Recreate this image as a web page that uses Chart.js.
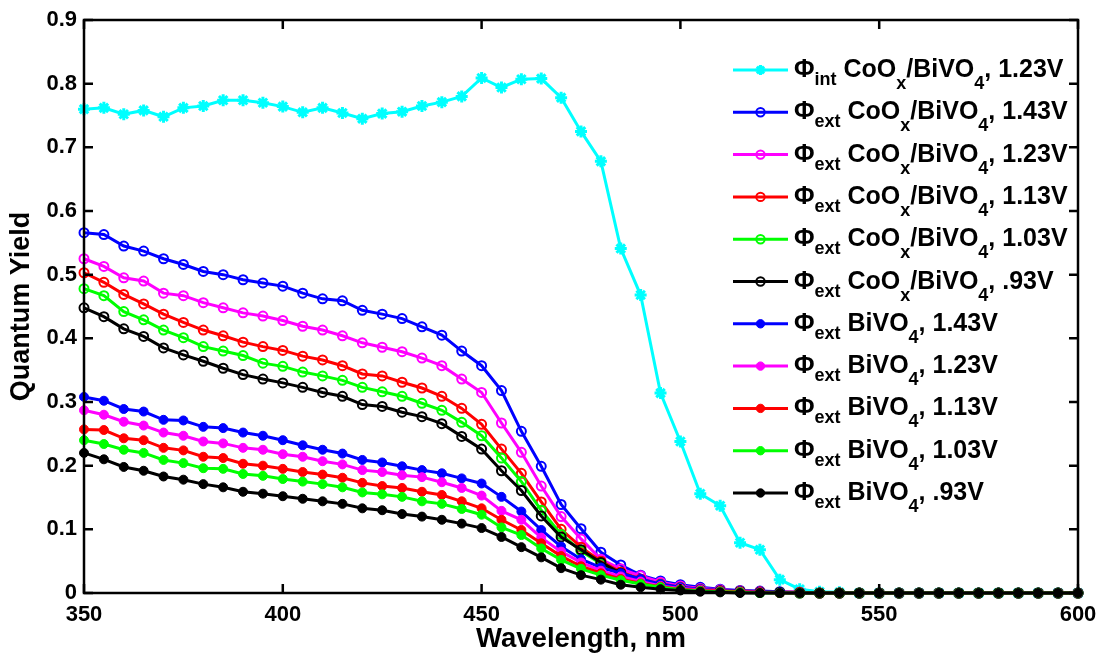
<!DOCTYPE html>
<html><head><meta charset="utf-8">
<script src="https://cdn.jsdelivr.net/npm/chart.js@4.4.0/dist/chart.umd.min.js"></script>
<style>html,body{margin:0;padding:0;background:#fff;}#wrap{width:1099px;height:656px;}</style>
</head><body><div id="wrap"><canvas id="c" width="1099" height="656"></canvas></div>
<script>
const wavelengths = [350,355,360,365,370,375,380,385,390,395,400,405,410,415,420,425,430,435,440,445,450,455,460,465,470,475,480,485,490,495,500,505,510,515,520,525,530,535,540,545,550,555,560,565,570,575,580,585,590,595,600];

const intCoOx123 = [0.760,0.762,0.752,0.758,0.748,0.762,0.765,0.774,0.774,0.770,0.764,0.755,0.762,0.754,0.745,0.753,0.756,0.765,0.771,0.780,0.809,0.794,0.807,0.808,0.778,0.725,0.678,0.541,0.468,0.314,0.238,0.156,0.137,0.079,0.068,0.021,0.006,0.002,0.001,0,0,0,0,0,0,0,0,0,0,0,0];
const extCoOx143 = [0.566,0.563,0.545,0.537,0.525,0.516,0.505,0.500,0.492,0.487,0.482,0.471,0.462,0.459,0.444,0.438,0.431,0.418,0.405,0.380,0.357,0.318,0.254,0.199,0.139,0.101,0.064,0.044,0.028,0.019,0.013,0.009,0.006,0.004,0.003,0.002,0.001,0,0,0,0,0,0,0,0,0,0,0,0,0,0];
const extCoOx123 = [0.525,0.513,0.495,0.490,0.471,0.467,0.456,0.448,0.440,0.435,0.428,0.419,0.413,0.404,0.393,0.386,0.379,0.369,0.357,0.336,0.315,0.267,0.221,0.168,0.120,0.085,0.053,0.038,0.027,0.017,0.011,0.007,0.005,0.003,0.002,0.001,0.001,0,0,0,0,0,0,0,0,0,0,0,0,0,0];
const extCoOx113 = [0.503,0.488,0.469,0.454,0.438,0.425,0.413,0.404,0.394,0.387,0.381,0.372,0.366,0.357,0.344,0.341,0.331,0.322,0.309,0.290,0.265,0.226,0.188,0.143,0.100,0.072,0.050,0.033,0.022,0.014,0.009,0.006,0.004,0.003,0.002,0.001,0.001,0,0,0,0,0,0,0,0,0,0,0,0,0,0];
const extCoOx103 = [0.478,0.467,0.442,0.429,0.413,0.401,0.387,0.380,0.373,0.361,0.356,0.347,0.341,0.334,0.323,0.316,0.309,0.298,0.287,0.268,0.247,0.212,0.175,0.130,0.092,0.066,0.046,0.030,0.020,0.013,0.008,0.005,0.003,0.002,0.001,0.001,0,0,0,0,0,0,0,0,0,0,0,0,0,0,0];
const extCoOx093 = [0.448,0.434,0.415,0.403,0.385,0.374,0.364,0.353,0.343,0.336,0.330,0.323,0.315,0.309,0.296,0.293,0.284,0.277,0.266,0.246,0.226,0.192,0.161,0.121,0.088,0.068,0.048,0.031,0.020,0.012,0.007,0.004,0.003,0.002,0.001,0.001,0,0,0,0,0,0,0,0,0,0,0,0,0,0,0];
const extBiVO143 = [0.308,0.302,0.289,0.285,0.272,0.271,0.261,0.259,0.252,0.247,0.240,0.232,0.225,0.219,0.209,0.205,0.199,0.193,0.188,0.180,0.172,0.151,0.128,0.099,0.073,0.053,0.040,0.031,0.022,0.014,0.009,0.006,0.004,0.003,0.002,0.001,0,0,0,0,0,0,0,0,0,0,0,0,0,0,0];
const extBiVO123 = [0.287,0.280,0.269,0.263,0.252,0.247,0.238,0.235,0.228,0.225,0.218,0.214,0.207,0.202,0.193,0.190,0.185,0.182,0.174,0.165,0.153,0.129,0.115,0.087,0.065,0.048,0.035,0.026,0.018,0.011,0.007,0.005,0.003,0.002,0.001,0,0,0,0,0,0,0,0,0,0,0,0,0,0,0,0];
const extBiVO113 = [0.257,0.256,0.243,0.240,0.228,0.224,0.214,0.212,0.203,0.200,0.195,0.190,0.186,0.181,0.173,0.168,0.165,0.159,0.154,0.144,0.133,0.115,0.099,0.078,0.058,0.042,0.031,0.022,0.015,0.010,0.006,0.004,0.003,0.002,0.001,0,0,0,0,0,0,0,0,0,0,0,0,0,0,0,0];
const extBiVO103 = [0.240,0.234,0.225,0.220,0.209,0.204,0.196,0.195,0.187,0.184,0.179,0.175,0.171,0.166,0.158,0.155,0.151,0.144,0.140,0.132,0.123,0.103,0.091,0.070,0.052,0.038,0.028,0.020,0.014,0.009,0.005,0.003,0.002,0.001,0,0,0,0,0,0,0,0,0,0,0,0,0,0,0,0,0];
const extBiVO093 = [0.220,0.210,0.198,0.192,0.183,0.178,0.171,0.166,0.159,0.156,0.152,0.148,0.144,0.140,0.133,0.130,0.124,0.120,0.115,0.109,0.102,0.088,0.072,0.056,0.039,0.028,0.021,0.013,0.009,0.006,0.004,0.002,0.001,0,0,0,0,0,0,0,0,0,0,0,0,0,0,0,0,0,0];

const seriesValues = [intCoOx123, extCoOx143, extCoOx123, extCoOx113, extCoOx103, extCoOx093, extBiVO143, extBiVO123, extBiVO113, extBiVO103, extBiVO093];
const seriesLabels = [
  'Φ_{int} CoO_{x}/BiVO_{4}, 1.23V',
  'Φ_{ext} CoO_{x}/BiVO_{4}, 1.43V',
  'Φ_{ext} CoO_{x}/BiVO_{4}, 1.23V',
  'Φ_{ext} CoO_{x}/BiVO_{4}, 1.13V',
  'Φ_{ext} CoO_{x}/BiVO_{4}, 1.03V',
  'Φ_{ext} CoO_{x}/BiVO_{4}, .93V',
  'Φ_{ext} BiVO_{4}, 1.43V',
  'Φ_{ext} BiVO_{4}, 1.23V',
  'Φ_{ext} BiVO_{4}, 1.13V',
  'Φ_{ext} BiVO_{4}, 1.03V',
  'Φ_{ext} BiVO_{4}, .93V'
];
const seriesColors = ['#00ffff','#0000ff','#ff00ff','#ff0000','#00ff00','#000000','#0000ff','#ff00ff','#ff0000','#00ff00','#000000'];
const seriesMarkers = ['star','open','open','open','open','open','filled','filled','filled','filled','filled'];
const xTickLabels = ['350','400','450','500','550','600'];
const yTickLabels = ['0','0.1','0.2','0.3','0.4','0.5','0.6','0.7','0.8','0.9'];
const xAxisTitle = 'Wavelength, nm';
const yAxisTitle = 'Quantum Yield';

const FONT = '"Liberation Sans", Arial, Helvetica, sans-serif';

const datasets = seriesValues.map((vals, i) => {
  const m = seriesMarkers[i];
  return {
    label: seriesLabels[i],
    data: wavelengths.map((w, j) => ({x: w, y: vals[j]})),
    borderColor: seriesColors[i],
    backgroundColor: seriesColors[i],
    borderWidth: 3,
    tension: 0,
    pointStyle: m === 'star' ? 'star' : 'circle',
    pointRadius: m === 'star' ? 6 : 4.5,
    pointBorderWidth: m === 'open' ? 2 : (m === 'star' ? 3 : 1),
    pointBackgroundColor: m === 'open' ? 'rgba(0,0,0,0)' : seriesColors[i],
    pointBorderColor: seriesColors[i],
    clip: false,
    order: seriesValues.length - i
  };
});

function drawMarker(ctx, kind, color, x, y) {
  ctx.save();
  ctx.strokeStyle = color; ctx.fillStyle = color;
  if (kind === 'star') {
    ctx.lineWidth = 3;
    const r = 5;
    ctx.beginPath();
    for (let k = 0; k < 4; k++) {
      const a = k * Math.PI / 4;
      ctx.moveTo(x - r * Math.cos(a), y - r * Math.sin(a));
      ctx.lineTo(x + r * Math.cos(a), y + r * Math.sin(a));
    }
    ctx.stroke();
  } else {
    ctx.lineWidth = kind === 'open' ? 2 : 1;
    ctx.beginPath();
    ctx.arc(x, y, 4.2, 0, Math.PI * 2);
    if (kind === 'filled') ctx.fill();
    ctx.stroke();
  }
  ctx.restore();
}

function parseLabel(s) {
  const parts = [];
  const re = /_\{([^}]*)\}/g;
  let last = 0, mm;
  while ((mm = re.exec(s)) !== null) {
    if (mm.index > last) parts.push({t: s.slice(last, mm.index), sub: false});
    parts.push({t: mm[1], sub: true});
    last = re.lastIndex;
  }
  if (last < s.length) parts.push({t: s.slice(last), sub: false});
  return parts;
}

const frame = {
  id: 'frame',
  afterDatasetsDraw(chart) {
    const ctx = chart.ctx;
    const {left, right, top, bottom} = chart.chartArea;
    const xs = chart.scales.x, ys = chart.scales.y;
    ctx.save();
    ctx.strokeStyle = '#000';
    ctx.lineWidth = 2.5;
    ctx.lineCap = 'butt';
    ctx.strokeRect(left, top, right - left, bottom - top);
    const tl = 9;
    ctx.beginPath();
    xs.ticks.forEach(t => {
      const px = xs.getPixelForValue(t.value);
      ctx.moveTo(px, bottom); ctx.lineTo(px, bottom - tl);
      ctx.moveTo(px, top); ctx.lineTo(px, top + tl);
    });
    ys.ticks.forEach(t => {
      const py = ys.getPixelForValue(t.value);
      ctx.moveTo(left, py); ctx.lineTo(left + tl, py);
      ctx.moveTo(right, py); ctx.lineTo(right - tl, py);
    });
    ctx.stroke();
    ctx.restore();
  },
  afterDraw(chart) {
    const ctx = chart.ctx;
    const x0 = 733, x1 = 788, tx = 794, y0 = 70, dy = 42.3;
    ctx.save();
    seriesLabels.forEach((lab, i) => {
      const y = y0 + i * dy;
      ctx.strokeStyle = seriesColors[i];
      ctx.lineWidth = 3;
      ctx.beginPath(); ctx.moveTo(x0, y); ctx.lineTo(x1, y); ctx.stroke();
      drawMarker(ctx, seriesMarkers[i], seriesColors[i], (x0 + x1) / 2, y);
      let x = tx;
      const base = y + 7;
      ctx.fillStyle = '#000';
      ctx.textBaseline = 'alphabetic';
      ctx.textAlign = 'left';
      parseLabel(lab).forEach((p, k) => {
        if (p.sub) {
          ctx.font = 'bold 18px ' + FONT;
          const off = k === 1 ? 8 : 12;
          ctx.fillText(p.t, x, base + off);
          x += ctx.measureText(p.t).width;
        } else {
          ctx.font = 'bold 25px ' + FONT;
          ctx.fillText(p.t, x, base);
          x += ctx.measureText(p.t).width;
        }
      });
    });
    ctx.restore();
  }
};

new Chart(document.getElementById('c'), {
  type: 'line',
  data: {datasets},
  options: {
    responsive: false,
    animation: false,
    devicePixelRatio: 1,
    layout: {padding: {left: 0, top: 20, right: 21, bottom: 0}},
    plugins: {legend: {display: false}, tooltip: {enabled: false}},
    scales: {
      x: {
        type: 'linear', min: 350, max: 600,
        grid: {display: false, drawTicks: false},
        border: {display: false},
        ticks: {
          stepSize: 50, color: '#000', padding: 9,
          font: {family: FONT, size: 22, weight: 'bold'},
          callback: (v) => { const i = xTickLabels.indexOf(String(v)); return i >= 0 ? xTickLabels[i] : ''; }
        },
        title: {display: true, text: xAxisTitle, color: '#000',
          font: {family: FONT, size: 27.5, weight: 'bold'}, padding: {top: 0, bottom: 0}},
        afterFit(s) { s.height = 63; s.paddingLeft = 0; s.paddingRight = 0; }
      },
      y: {
        type: 'linear', min: 0, max: 0.9,
        grid: {display: false, drawTicks: false},
        border: {display: false},
        ticks: {
          stepSize: 0.1, color: '#000', padding: 7,
          font: {family: FONT, size: 22, weight: 'bold'},
          callback: (v, idx) => yTickLabels[idx]
        },
        title: {display: true, text: yAxisTitle, color: '#000',
          font: {family: FONT, size: 27, weight: 'bold'}, padding: {top: 5, bottom: 0}},
        afterFit(s) { s.width = 84; s.paddingTop = 0; s.paddingBottom = 0; }
      }
    }
  },
  plugins: [frame]
});
</script></body></html>
